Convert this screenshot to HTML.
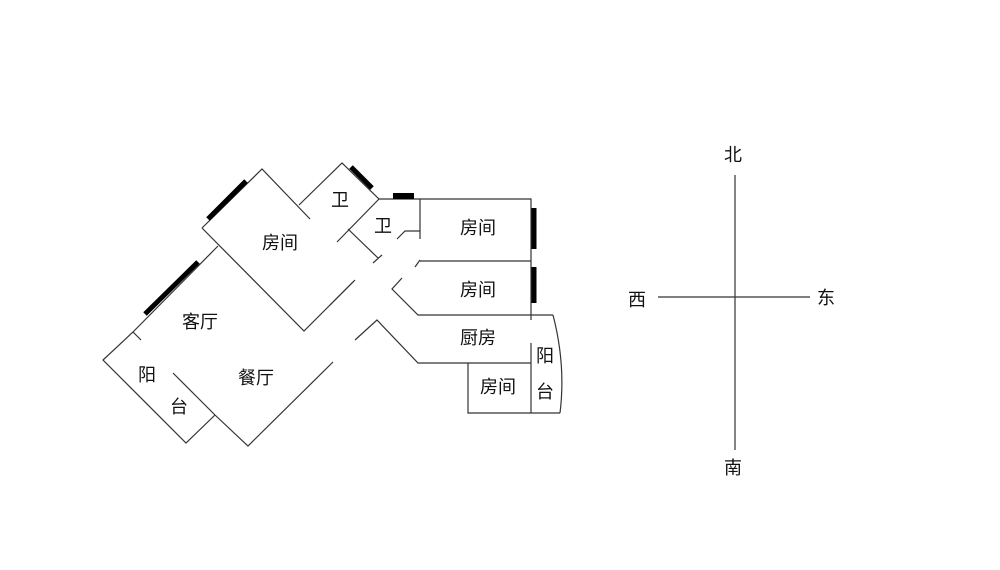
<!DOCTYPE html>
<html><head><meta charset="utf-8"><style>
html,body{margin:0;padding:0;background:#fff;}
svg{display:block}
text{font-family:"Liberation Sans","Noto Sans CJK SC",sans-serif;font-size:18px;fill:#111;text-anchor:middle;dominant-baseline:central}
</style></head><body>
<svg width="1000" height="570" viewBox="0 0 1000 570">
<g stroke="#333" stroke-width="1.2" fill="none">
<polyline points="202,228 262,169 310,219"/>
<polyline points="202,228 304,331 353,282"/>
<polyline points="299,205 342,163 379,199 420,199"/>
<polyline points="379,199 337,242"/>
<polyline points="348,229 378,258"/>
<line x1="373" y1="263" x2="382" y2="255"/>
<polyline points="397,239 405,231 420,231"/>
<line x1="420" y1="199" x2="420" y2="239"/>
<line x1="415" y1="267" x2="420" y2="260"/>
<polyline points="218,246 133,332 103,360 186,443 215,415"/>
<line x1="133" y1="332" x2="141" y2="340"/>
<line x1="173" y1="373" x2="215" y2="415"/>
<polyline points="215,415 248,446 333,362"/>
<line x1="330" y1="305" x2="355" y2="280"/>
<polyline points="355,340 377,320 418,363 531,363"/>
<polyline points="420,199 531,199 531,320"/>
<line x1="420" y1="261" x2="531" y2="261"/>
<polyline points="402,278 392,289 418,315 553,315"/>
<path d="M553,315 Q566,365 560,413"/>
<polyline points="531,343 531,413"/>
<polyline points="468,363 468,413 560,413"/>
<line x1="735" y1="175" x2="735" y2="450"/>
<line x1="658" y1="297" x2="810" y2="297"/>
</g>
<g stroke="#000" stroke-width="5">
<line x1="208" y1="219" x2="246" y2="181"/>
<line x1="145" y1="314" x2="198" y2="262"/>
<line x1="351" y1="167" x2="372" y2="188"/>
<line x1="534" y1="208" x2="534" y2="249"/>
<line x1="534" y1="267" x2="534" y2="303"/>
</g>
<rect x="393" y="193" width="21" height="6" fill="#000"/>
<text x="280" y="243">房间</text>
<text x="340" y="200">卫</text>
<text x="383" y="226">卫</text>
<text x="478" y="228">房间</text>
<text x="478" y="290">房间</text>
<text x="200" y="322">客厅</text>
<text x="256" y="378">餐厅</text>
<text x="478" y="338">厨房</text>
<text x="545" y="356">阳</text>
<text x="545" y="392">台</text>
<text x="498" y="387">房间</text>
<text x="147" y="375">阳</text>
<text x="179" y="407">台</text>
<text x="733" y="155">北</text>
<text x="733" y="468">南</text>
<text x="637" y="300">西</text>
<text x="826" y="298">东</text>
</svg>
</body></html>
